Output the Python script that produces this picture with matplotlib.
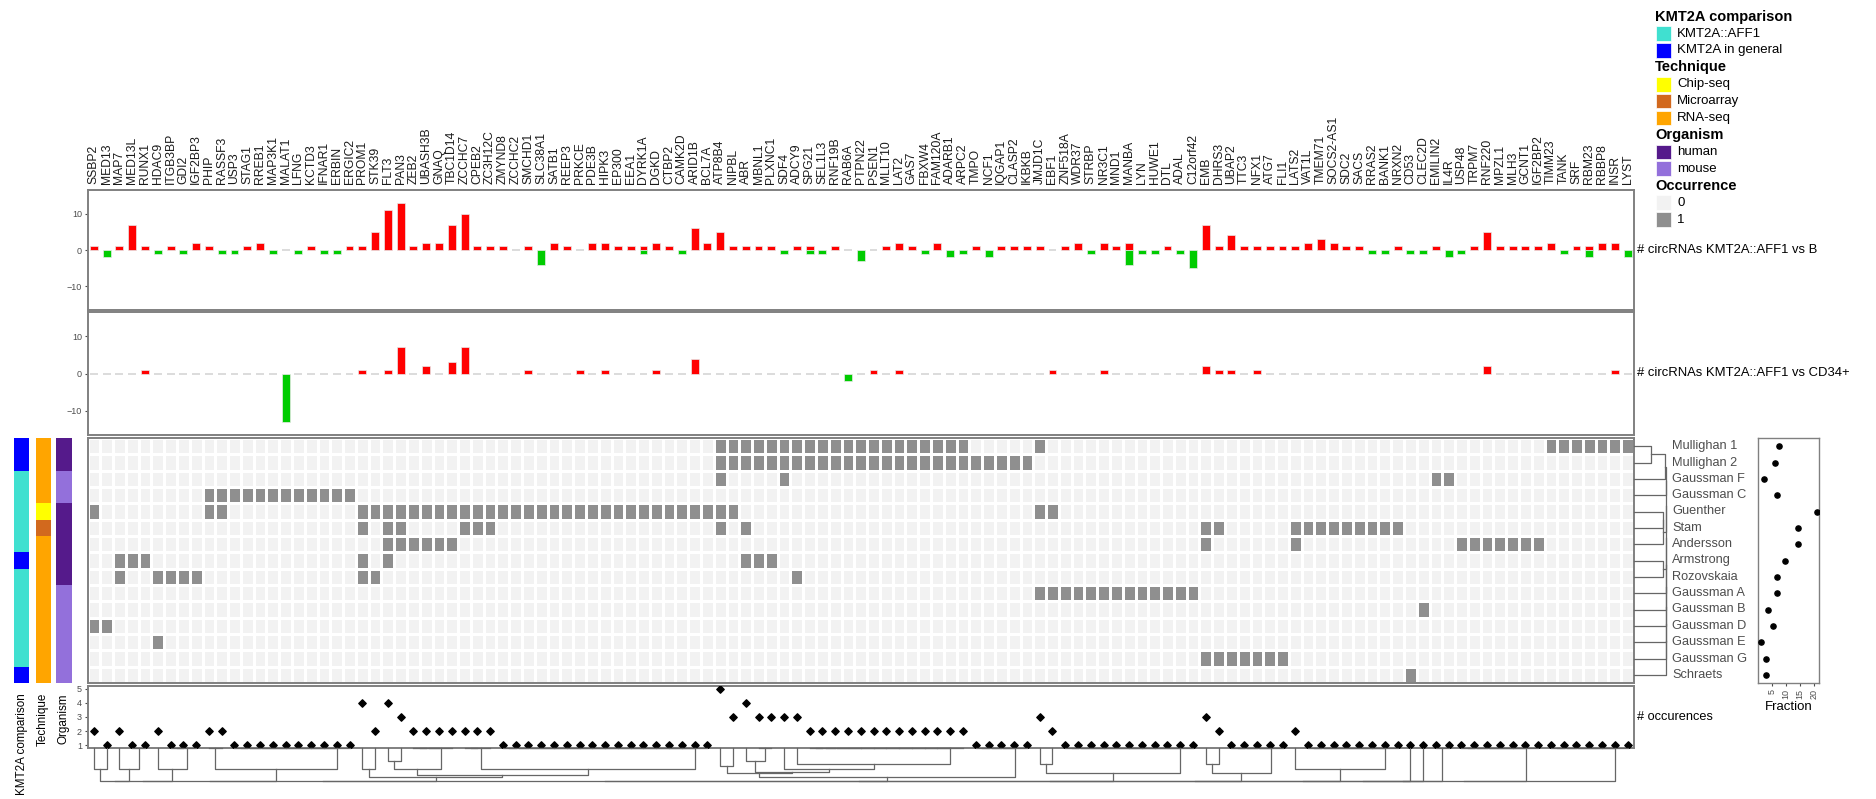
import numpy as np
import matplotlib
matplotlib.use('Agg')
import matplotlib.pyplot as plt
from matplotlib.colors import ListedColormap, to_rgb
from matplotlib.patches import Rectangle
from matplotlib.transforms import blended_transform_factory

plt.rcParams['font.family'] = ['Liberation Sans', 'DejaVu Sans']

genes = ['SSBP2', 'MED13', 'MAP7', 'MED13L', 'RUNX1', 'HDAC9', 'ITGB3BP', 'GDI2', 'IGF2BP3', 'PHIP',
         'RASSF3', 'USP3', 'STAG1', 'RREB1', 'MAP3K1', 'MALAT1', 'LFNG', 'KCTD3', 'IFNAR1', 'ERBIN',
         'ERGIC2', 'PROM1', 'STK39', 'FLT3', 'PAN3', 'ZEB2', 'UBASH3B', 'GNAQ', 'TBC1D14', 'ZCCHC7',
         'CPEB2', 'ZC3H12C', 'ZMYND8', 'ZCCHC2', 'SMCHD1', 'SLC38A1', 'SATB1', 'REEP3', 'PRKCE', 'PDE3B',
         'HIPK3', 'EP300', 'EEA1', 'DYRK1A', 'DGKD', 'CTBP2', 'CAMK2D', 'ARID1B', 'BCL7A', 'ATP8B4',
         'NIPBL', 'ABR', 'MBNL1', 'PLXNC1', 'SDF4', 'ADCY9', 'SPG21', 'SEL1L3', 'RNF19B', 'RAB6A',
         'PTPN22', 'PSEN1', 'MLLT10', 'LAT2', 'GAS7', 'FBXW4', 'FAM120A', 'ADARB1', 'ARPC2', 'TMPO',
         'NCF1', 'IQGAP1', 'CLASP2', 'IKBKB', 'JMJD1C', 'EBF1', 'ZNF518A', 'WDR37', 'STRBP', 'NR3C1',
         'MND1', 'MANBA', 'LYN', 'HUWE1', 'DTL', 'ADAL', 'C12orf42', 'EMB', 'DHRS3', 'UBAP2',
         'TTC3', 'NFX1', 'ATG7', 'FLI1', 'LATS2', 'VAT1L', 'TMEM71', 'SOCS2-AS1', 'SDC2', 'SACS',
         'RRAS2', 'BANK1', 'NRXN2', 'CD53', 'CLEC2D', 'EMILIN2', 'IL4R', 'USP48', 'TRPM7', 'RNF220',
         'MPZL1', 'MLH3', 'GCNT1', 'IGF2BP2', 'TIMM23', 'TANK', 'SRF', 'RBM23', 'RBBP8', 'INSR', 'LYST']


def span(first, last):
    return genes[genes.index(first):genes.index(last) + 1]


# upregulated circRNAs KMT2A::AFF1 vs B (one value per gene)
up_b = [1, 0, 1, 7, 1, 0, 1, 0, 2, 1, 0, 0, 1, 2, 0, 0, 0, 1, 0, 0,
        1, 1, 5, 11, 13, 1, 2, 2, 7, 10, 1, 1, 1, 0, 1, 0, 2, 1, 0, 2,
        2, 1, 1, 1, 2, 1, 0, 6, 2, 5, 1, 1, 1, 1, 0, 1, 1, 0, 1, 0,
        0, 0, 1, 2, 1, 0, 2, 0, 0, 1, 0, 1, 1, 1, 1, 0, 1, 2, 0, 2,
        1, 2, 0, 0, 1, 0, 0, 7, 1, 4, 1, 1, 1, 1, 1, 2, 3, 2, 1, 1,
        0, 0, 1, 0, 0, 1, 0, 0, 1, 5, 1, 1, 1, 1, 2, 0, 1, 1, 2, 2, 0]
down_b = {'MED13': -2, 'HDAC9': -1, 'GDI2': -1, 'RASSF3': -1, 'USP3': -1, 'MAP3K1': -1,
          'LFNG': -1, 'IFNAR1': -1, 'ERBIN': -1, 'SLC38A1': -4, 'DYRK1A': -1, 'CAMK2D': -1,
          'SDF4': -1, 'SPG21': -1, 'SEL1L3': -1, 'PTPN22': -3, 'FBXW4': -1, 'ADARB1': -2,
          'ARPC2': -1, 'NCF1': -2, 'STRBP': -1, 'MANBA': -4, 'LYN': -1, 'HUWE1': -1,
          'ADAL': -1, 'C12orf42': -5, 'RRAS2': -1, 'BANK1': -1, 'CD53': -1, 'CLEC2D': -1,
          'IL4R': -2, 'USP48': -1, 'TANK': -1, 'RBM23': -2, 'LYST': -2}

# KMT2A::AFF1 vs CD34+
up_cd34 = {'RUNX1': 1, 'PROM1': 1, 'FLT3': 1, 'PAN3': 7, 'UBASH3B': 2, 'TBC1D14': 3, 'ZCCHC7': 7,
           'SMCHD1': 1, 'PRKCE': 1, 'HIPK3': 1, 'DGKD': 1, 'ARID1B': 4, 'PSEN1': 1, 'LAT2': 1,
           'EBF1': 1, 'NR3C1': 1, 'EMB': 2, 'DHRS3': 1, 'UBAP2': 1, 'NFX1': 1, 'RNF220': 2, 'INSR': 1}
down_cd34 = {'MALAT1': -13, 'RAB6A': -2}

studies = ['Mullighan 1', 'Mullighan 2', 'Gaussman F', 'Gaussman C', 'Guenther', 'Stam', 'Andersson',
           'Armstrong', 'Rozovskaia', 'Gaussman A', 'Gaussman B', 'Gaussman D', 'Gaussman E',
           'Gaussman G', 'Schraets']
study_genes = {
    'Mullighan 1': span('ATP8B4', 'ARPC2') + ['JMJD1C'] + span('TIMM23', 'LYST'),
    'Mullighan 2': span('ATP8B4', 'IKBKB'),
    'Gaussman F': ['ATP8B4', 'SDF4', 'EMILIN2', 'IL4R'],
    'Gaussman C': span('PHIP', 'ERGIC2'),
    'Guenther': ['SSBP2', 'PHIP', 'RASSF3'] + span('PROM1', 'NIPBL') + ['JMJD1C', 'EBF1'],
    'Stam': ['PROM1', 'FLT3', 'PAN3', 'ZCCHC7', 'CPEB2', 'ZC3H12C', 'ATP8B4', 'ABR', 'EMB', 'DHRS3']
            + span('LATS2', 'NRXN2'),
    'Andersson': span('FLT3', 'TBC1D14') + ['EMB', 'LATS2'] + span('USP48', 'IGF2BP2'),
    'Armstrong': ['MAP7', 'MED13L', 'RUNX1', 'PROM1', 'FLT3', 'ABR', 'MBNL1', 'PLXNC1'],
    'Rozovskaia': ['MAP7'] + span('HDAC9', 'IGF2BP3') + ['PROM1', 'STK39', 'ADCY9'],
    'Gaussman A': span('JMJD1C', 'C12orf42'),
    'Gaussman B': ['CLEC2D'],
    'Gaussman D': ['SSBP2', 'MED13'],
    'Gaussman E': ['HDAC9'],
    'Gaussman G': span('EMB', 'FLI1'),
    'Schraets': ['CD53'],
}
comparison = ['KMT2A in general', 'KMT2A in general', 'KMT2A::AFF1', 'KMT2A::AFF1', 'KMT2A::AFF1',
              'KMT2A::AFF1', 'KMT2A::AFF1', 'KMT2A in general', 'KMT2A::AFF1', 'KMT2A::AFF1',
              'KMT2A::AFF1', 'KMT2A::AFF1', 'KMT2A::AFF1', 'KMT2A::AFF1', 'KMT2A in general']
technique = ['RNA-seq', 'RNA-seq', 'RNA-seq', 'RNA-seq', 'Chip-seq', 'Microarray'] + ['RNA-seq'] * 9
organism = ['human', 'human', 'mouse', 'mouse', 'human', 'human', 'human', 'human', 'human',
            'mouse', 'mouse', 'mouse', 'mouse', 'mouse', 'mouse']
fraction = [7.3, 5.8, 2.0, 6.8, 20.9, 14.4, 14.2, 9.7, 6.6, 6.6, 3.5, 5.1, 0.9, 2.7, 2.8]

comparison_colors = {'KMT2A::AFF1': '#40e0d0', 'KMT2A in general': '#0000ff'}
technique_colors = {'Chip-seq': '#ffff00', 'Microarray': '#d2691e', 'RNA-seq': '#ffa500'}
organism_colors = {'human': '#551a8b', 'mouse': '#9370db'}
occ_colors = ['#f2f2f2', '#8f8f8f']

n = len(genes)
x = np.arange(n)
occ = np.array([[g in study_genes[s] for g in genes] for s in studies])

W, H = 1876, 799
fig = plt.figure(figsize=(W / 100, H / 100), dpi=100)


def rect(x0, y0, x1, y1):
    return [x0 / W, 1 - y1 / H, (x1 - x0) / W, (y1 - y0) / H]


def frame(ax, color='#808080', lw=1.4):
    for s in ax.spines.values():
        s.set_color(color)
        s.set_linewidth(lw)


def bar_panel(ax, up, down, label):
    up = np.asarray(up, dtype=float)
    down = np.asarray(down, dtype=float)
    m = up != 0
    ax.bar(x[m], up[m], width=0.62, color='#ff0000', edgecolor='#e8e8e8', linewidth=0.5)
    m = down != 0
    ax.bar(x[m], down[m], width=0.62, color='#00cc00', edgecolor='#e8e8e8', linewidth=0.5)
    z = (up == 0) & (down == 0)
    ax.hlines(np.zeros(z.sum()), x[z] - 0.31, x[z] + 0.31, color='#d9d9d9', lw=1.3)
    ax.set_xlim(-0.5, n - 0.5)
    ax.set_ylim(-16.5, 16.5)
    ax.set_yticks([-10, 0, 10])
    ax.tick_params(axis='y', labelsize=6.5, labelcolor='#4d4d4d', color='#4d4d4d', length=2.5, pad=1.5)
    ax.text(1.002, 0.5, label, transform=ax.transAxes, fontsize=9.4, va='center', ha='left')
    frame(ax)


X0, X1 = 87.5, 1634

ax_b = fig.add_axes(rect(X0, 190, X1, 310))
bar_panel(ax_b, up_b, [down_b.get(g, 0) for g in genes], '# circRNAs KMT2A::AFF1 vs B')
ax_b.set_xticks(x)
ax_b.set_xticklabels(genes, rotation=90, fontsize=8.7, color='#1a1a1a')
ax_b.xaxis.tick_top()
ax_b.tick_params(axis='x', length=0, pad=4)

ax_c = fig.add_axes(rect(X0, 312, X1, 435))
bar_panel(ax_c, [up_cd34.get(g, 0) for g in genes], [down_cd34.get(g, 0) for g in genes],
          '# circRNAs KMT2A::AFF1 vs CD34+')
ax_c.set_xticks([])

# occurrence heatmap
ax_h = fig.add_axes(rect(X0, 438, X1, 683))
ax_h.pcolormesh(np.arange(n + 1) - 0.5, np.arange(len(studies) + 1) - 0.5, occ.astype(int),
                cmap=ListedColormap(occ_colors), vmin=0, vmax=1, edgecolors='white', linewidth=1.0)
ax_h.set_xlim(-0.5, n - 0.5)
ax_h.set_ylim(len(studies) - 0.5, -0.5)
ax_h.set_xticks([])
ax_h.set_yticks([])
frame(ax_h)

# number of studies per gene
ax_o = fig.add_axes(rect(X0, 686, X1, 748))
ax_o.scatter(x, occ.sum(0), marker='D', s=14, color='black', zorder=3)
ax_o.set_xlim(-0.5, n - 0.5)
ax_o.set_ylim(0.8, 5.2)
ax_o.set_yticks([1, 2, 3, 4, 5])
ax_o.set_xticks([])
ax_o.tick_params(axis='y', labelsize=6.5, labelcolor='#4d4d4d', color='#4d4d4d', length=2.5, pad=1.5)
ax_o.text(1.002, 0.5, '# occurences', transform=ax_o.transAxes, fontsize=9.2, va='center', ha='left')
frame(ax_o)


def jaccard_linkage(vectors):
    # complete linkage on Jaccard distance, merging neighbours only so the order is kept
    m = len(vectors)
    D = np.zeros((m, m))
    for i in range(m):
        for j in range(m):
            union = np.sum(vectors[i] | vectors[j])
            D[i, j] = 0 if union == 0 else 1 - np.sum(vectors[i] & vectors[j]) / union
    clusters = [([i], float(i), 0.0) for i in range(m)]
    links = []
    while len(clusters) > 1:
        dists = [D[np.ix_(clusters[k][0], clusters[k + 1][0])].max() for k in range(len(clusters) - 1)]
        k = int(np.argmin(dists))
        (ml, pl, hl), (mr, pr, hr) = clusters[k], clusters[k + 1]
        h = dists[k]
        links.append((pl, hl ** 0.65, pr, hr ** 0.65, h ** 0.65))
        clusters[k:k + 2] = [(ml + mr, (pl + pr) / 2, h)]
    return links


ax_d = fig.add_axes(rect(X0, 748, X1, 781))
for pl, hl, pr, hr, h in jaccard_linkage(occ.T):
    ax_d.plot([pl, pl, pr, pr], [hl, h, h, hr], color='#666666', lw=0.9, clip_on=False)
ax_d.set_xlim(-0.5, n - 0.5)
ax_d.set_ylim(1.0, 0.0)
ax_d.axis('off')

# study dendrogram and names
ax_r = fig.add_axes(rect(X1, 438, 1666, 683))
for pl, hl, pr, hr, h in jaccard_linkage(occ):
    ax_r.plot([hl, h, h, hr], [pl, pl, pr, pr], color='#666666', lw=0.9, clip_on=False)
ax_r.set_xlim(0, 1.0)
ax_r.set_ylim(len(studies) - 0.5, -0.5)
ax_r.axis('off')
tr = blended_transform_factory(ax_r.transAxes, ax_r.transData)
for i, s in enumerate(studies):
    ax_r.text(1.19, i, s, transform=tr, fontsize=9.2, color='#4d4d4d', va='center', ha='left')

# fraction per study
ax_f = fig.add_axes(rect(1758, 438, 1819, 683))
ax_f.scatter(fraction, np.arange(len(studies)), s=14, color='black', zorder=3)
ax_f.set_ylim(len(studies) - 0.5, -0.5)
ax_f.set_xlim(-0.2, 21.8)
ax_f.set_yticks([])
ax_f.set_xticks([5, 10, 15, 20])
ax_f.tick_params(axis='x', labelsize=6.5, labelcolor='#4d4d4d', color='#4d4d4d', length=2.5,
                 pad=1.5, labelrotation=90)
ax_f.set_xlabel('Fraction', fontsize=9.5, labelpad=2)
frame(ax_f, lw=1.0)

# study annotation strips
strips = [('KMT2A comparison', comparison, comparison_colors, 14.3),
          ('Technique', technique, technique_colors, 35.7),
          ('Organism', organism, organism_colors, 56.4)]
for name, values, cmap, left in strips:
    ax_s = fig.add_axes(rect(left, 438, left + 15, 683))
    ax_s.imshow(np.array([[to_rgb(cmap[v])] for v in values]), aspect='auto', interpolation='nearest')
    ax_s.axis('off')
    fig.text((left + 7.5) / W, 1 - 693 / H, name, rotation=90, fontsize=8.4, ha='center', va='top')

# legend
legend_groups = [('KMT2A comparison', comparison_colors), ('Technique', technique_colors),
                 ('Organism', organism_colors), ('Occurrence', {'0': occ_colors[0], '1': occ_colors[1]})]
y = 16.7
for title, entries in legend_groups:
    fig.text(1655 / W, 1 - y / H, title, fontsize=10.5, weight='bold', va='center', ha='left')
    y += 16.9
    for label, col in entries.items():
        fig.patches.append(Rectangle((1656 / W, 1 - (y + 7.2) / H), 14.5 / W, 14.5 / H,
                                     transform=fig.transFigure, facecolor=col, edgecolor='white', lw=0.5))
        fig.text(1677 / W, 1 - y / H, label, fontsize=9.5, va='center', ha='left')
        y += 16.9

fig.savefig('out.png', dpi=100)
